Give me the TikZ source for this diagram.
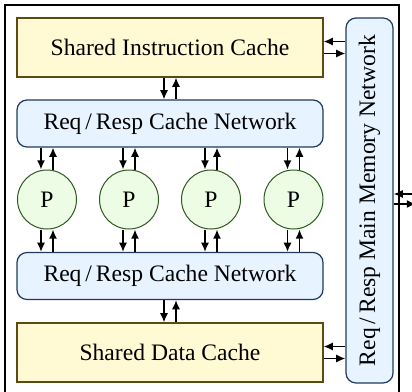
\documentclass[tikz,border=0pt]{standalone}
\usepackage{fontspec}
\setmainfont{Liberation Serif}
\usetikzlibrary{arrows.meta}

\definecolor{cachefill}{HTML}{FFF9D4}
\definecolor{cachedraw}{HTML}{5C4A10}
\definecolor{netfill}{HTML}{E7F3FF}
\definecolor{netdraw}{HTML}{1F3A5F}
\definecolor{procfill}{HTML}{EDFCE4}
\definecolor{procdraw}{HTML}{2F5A1E}

\begin{document}
\begin{tikzpicture}[
  x=0.5pt,
  y=-0.5pt,
  font=\fontsize{11.8}{13}\selectfont,
  >={Latex[length=4.6pt,width=4pt]},
  line cap=butt
]

  % styles for the blocks
  \tikzset{
    cachebox/.style={draw=cachedraw, fill=cachefill, line width=0.6pt,
      minimum width=153pt, minimum height=29.5pt, inner sep=0pt},
    netbox/.style={draw=netdraw, fill=netfill, line width=0.6pt,
      rounded corners=5pt, minimum width=153pt, minimum height=23.5pt,
      inner sep=0pt},
    proc/.style={circle, draw=procdraw, fill=procfill, line width=0.5pt,
      minimum size=29.5pt, inner sep=0pt},
    link/.style={line width=0.75pt}
  }

  % up / down pair of links between two stacked nodes
  \def\pairV#1#2{%
    \draw[link,->] ([xshift=-3pt]#1.south) -- ([xshift=-3pt]#1.south |- #2.north);
    \draw[link,<-] ([xshift=3pt]#1.south) -- ([xshift=3pt]#1.south |- #2.north);
  }

  \useasboundingbox (0,0) rectangle (412,391);

  % outer frame
  \draw[line width=1.2pt] (5,5) rectangle (399,400);

  % caches and cache networks
  \node[cachebox] (icache) at (170,47.5) {Shared Instruction Cache};
  \node[netbox]   (topnet) at (170,123.5) {Req\,/\,Resp Cache Network};
  \node[netbox]   (botnet) at (170,276) {Req\,/\,Resp Cache Network};
  \node[cachebox] (dcache) at (170,352.5) {Shared Data Cache};

  % processors
  \foreach \i/\x in {1/47,2/129,3/211,4/293.5} {
    \node[proc] (p\i) at (\x,199.5) {P};
  }

  % main memory network
  \node[netbox, minimum width=23.5pt, minimum height=182.5pt]
    (memnet) at (369.5,200.5) {\rotatebox{90}{Req\,/\,Resp Main Memory Network}};

  \coordinate (ext) at (416,199);

  % cache <-> cache network
  \pairV{icache}{topnet}
  \pairV{botnet}{dcache}

  % cache network <-> processors
  \foreach \i in {1,...,4} {
    \draw[link,->] ([xshift=-3pt]p\i.north |- topnet.south) -- ([xshift=-3pt]p\i.north);
    \draw[link,<-] ([xshift=3pt]p\i.north |- topnet.south) -- ([xshift=3pt]p\i.north);
    \draw[link,->] ([xshift=-3pt]p\i.south) -- ([xshift=-3pt]p\i.south |- botnet.north);
    \draw[link,<-] ([xshift=3pt]p\i.south) -- ([xshift=3pt]p\i.south |- botnet.north);
  }

  % caches <-> main memory network
  \draw[link,<-] ([yshift=3pt]icache.east) -- ([yshift=3pt]icache.east -| memnet.west);
  \draw[link,->] ([yshift=-3pt]icache.east) -- ([yshift=-3pt]icache.east -| memnet.west);
  \draw[link,<-] ([yshift=3pt]dcache.east) -- ([yshift=3pt]dcache.east -| memnet.west);
  \draw[link,->] ([yshift=-3pt]dcache.east) -- ([yshift=-3pt]dcache.east -| memnet.west);

  % main memory network <-> outside
  \draw[link,<-] ([yshift=2.5pt]memnet.east |- ext) -- ([yshift=2.5pt]ext);
  \draw[link,->] ([yshift=-2.5pt]memnet.east |- ext) -- ([yshift=-2.5pt]ext);

\end{tikzpicture}
\end{document}
